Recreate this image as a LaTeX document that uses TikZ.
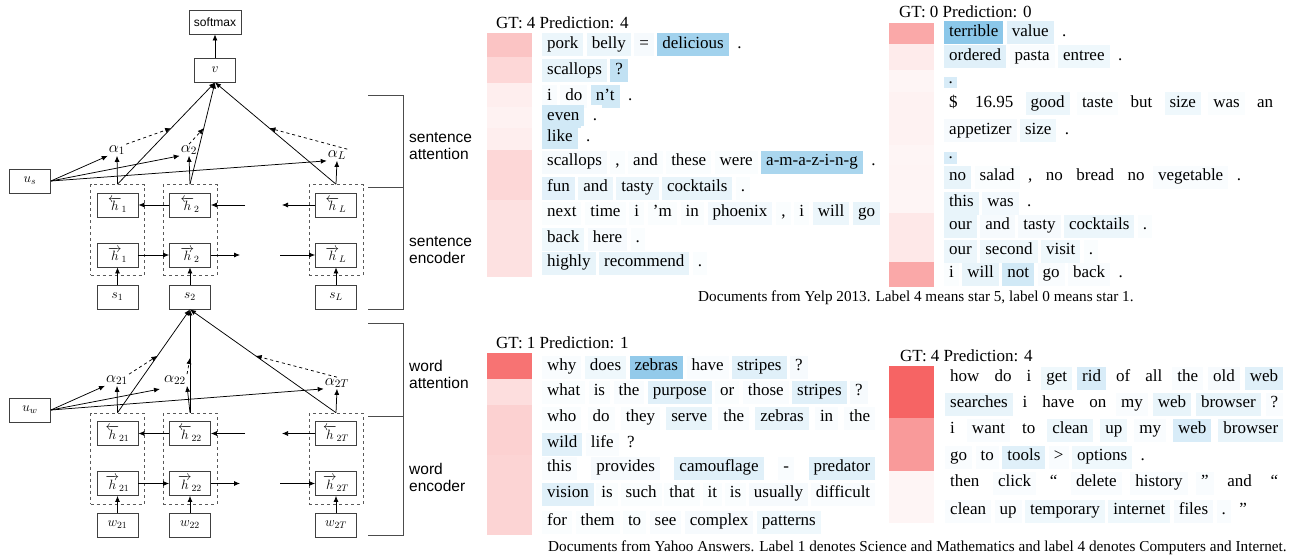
\RequirePackage{fix-cm}
\documentclass[tikz,border=0pt]{standalone}
\usepackage{xcolor}
\usepackage{fontspec}
\setmainfont{Liberation Serif}
\setsansfont{Liberation Sans}
\usepackage{tikz}
\usetikzlibrary{arrows.meta,fit,calc}
\definecolor{attblue}{RGB}{100,180,225}
\definecolor{attred}{RGB}{245,90,90}
\setlength{\fboxsep}{0pt}
% one highlighted word, and the gap after it
\newcommand{\wrd}[2]{\colorbox{attblue!#1}{\hspace{5pt}\rule[-8pt]{0pt}{23pt}#2\hspace{5pt}}\wsep}
\newcommand{\wsep}{\hspace{3.5pt}}
% a justified line of words
\newcommand{\jline}[2]{\hbox to #1{\def\wsep{\hfill}#2\unskip}}

\begin{document}
\begin{tikzpicture}[x=1pt, y=-1pt,
    unit/.style={draw=black!75, line width=0.8pt, minimum width=41pt, minimum height=24pt, inner sep=0pt, font=\fontsize{13.5}{15}\selectfont},
    grp/.style={draw=black!65, dashed, line width=0.8pt, inner xsep=6pt, inner ysep=8pt},
    att/.style={inner sep=1pt, font=\fontsize{16}{18}\selectfont},
    arr/.style={-{Latex[length=6pt,width=5pt]}, line width=0.75pt},
    datt/.style={arr, dashed},
    brk/.style={draw=black!70, line width=0.8pt},
    layer/.style={font=\sffamily\fontsize{15.5}{17}\selectfont, align=left, anchor=west, inner sep=0pt},
    hdr/.style={anchor=west, inner sep=0pt, font=\fontsize{17}{20}\selectfont},
    wline/.style={anchor=west, inner sep=0pt, font=\fontsize{17}{20}\selectfont},
    capt/.style={anchor=west, inner sep=0pt, font=\fontsize{15.2}{17}\selectfont}
]
\useasboundingbox (0,0) rectangle (1293,559);

% ---- sentence level ----
\node[unit, minimum width=52pt, font=\sffamily\fontsize{12}{14}\selectfont] (softmax) at (215,22) {softmax};
\node[unit] (v) at (215,70) {$v$};
\node[unit] (us) at (30,181) {$u_s$};
\draw[arr] (v) -- (softmax);

\foreach \n/\x in {1/117.5, 2/190, L/336} {
    \node[unit] (hb\n) at (\x,205) {$\overleftarrow{h}_{\n}$};
    \node[unit] (hf\n) at (\x,255) {$\overrightarrow{h}_{\n}$};
    \node[unit] (s\n) at (\x,297) {$s_{\n}$};
    \node[grp, fit=(hb\n)(hf\n)] (g\n) {};
    \draw[arr] (s\n) -- (hf\n);
    \draw[arr] (g\n.north) -- (v.south);
}
\coordinate (hbb) at (245,205);
\coordinate (hba) at (282,205);
\coordinate (hfa) at (240,255);
\coordinate (hfb) at (280,255);
\draw[arr] (hb2) -- (hb1);
\draw[arr] (hbb) -- (hb2);
\draw[arr] (hbL) -- (hba);
\draw[arr] (hf1) -- (hf2);
\draw[arr] (hf2) -- (hfa);
\draw[arr] (hfb) -- (hfL);

\node[att] (a1) at (117,150) {$\alpha_1$};
\node[att] (a2) at (189,150) {$\alpha_2$};
\node[att] (aL) at (337,155) {$\alpha_L$};
\draw[arr] (g1.north) -- (a1.south);
\draw[arr] (g2.north) -- (a2.south);
\draw[arr] (gL.north) -- (aL.south);
\foreach \t in {a1,a2,aL}
    \draw[arr] (us.east) -- (\t.south west);
\draw[datt] (a1.north east) -- ($(g1.north)!0.55!(v.south)$);
\draw[datt] (a2.north) -- ($(g2.north)!0.55!(v.south)$);
\draw[datt] (aL.north east) -- ($(gL.north)!0.55!(v.south)$);

% ---- word level ----
\node[unit] (uw) at (30,410) {$u_w$};
\foreach \n/\x in {21/117.5, 22/190, 2T/336} {
    \node[unit] (hb\n) at (\x,433.5) {$\overleftarrow{h}_{\n}$};
    \node[unit] (hf\n) at (\x,483.5) {$\overrightarrow{h}_{\n}$};
    \node[unit] (w\n) at (\x,525) {$w_{\n}$};
    \node[grp, fit=(hb\n)(hf\n)] (g\n) {};
    \draw[arr] (w\n) -- (hf\n);
    \draw[arr] (g\n.north) -- (s2.south);
}
\coordinate (wbb) at (245,433.5);
\coordinate (wba) at (282,433.5);
\coordinate (wfa) at (240,483.5);
\coordinate (wfb) at (280,483.5);
\draw[arr] (hb22) -- (hb21);
\draw[arr] (wbb) -- (hb22);
\draw[arr] (hb2T) -- (wba);
\draw[arr] (hf21) -- (hf22);
\draw[arr] (hf22) -- (wfa);
\draw[arr] (wfb) -- (hf2T);

\node[att] (a21) at (117,380) {$\alpha_{21}$};
\node[att] (a22) at (175,380) {$\alpha_{22}$};
\node[att] (a2T) at (337,383) {$\alpha_{2T}$};
\coordinate (a22in) at (160,389);
\draw[arr] (g21.north) -- (a21.south);
\draw[arr] (g22.north) -- (a22.south east);
\draw[arr] (g2T.north) -- (a2T.south);
\draw[arr] (uw.east) -- (a21.south west);
\draw[arr] (uw.east) -- (a22in);
\draw[arr] (uw.east) -- (a2T.south west);
\draw[datt] (a21.north east) -- ($(g21.north)!0.55!(s2.south)$);
\draw[datt] (a22.north east) -- ($(g22.north)!0.53!(s2.south)$);
\draw[datt] (a2T.north) -- ($(g2T.north)!0.55!(s2.south)$);

% ---- brackets ----
\draw[brk] (368,95) -| (403,309) -- (368,309);
\draw[brk] (368,187) -- (403,187);
\draw[brk] (368,323) -| (403,535) -- (368,535);
\draw[brk] (368,416) -- (403,416);
\node[layer] (lsa) at (409,146) {sentence\\attention};
\node[layer] (lse) at (409,250) {sentence\\encoder};
\node[layer] (lwa) at (409,374) {word\\attention};
\node[layer] (lwe) at (409,477) {word\\encoder};

% ---- sentence weights ----
\foreach \ya/\yb/\s in {33/57/36, 57/83/24, 83/107/10, 107/128/8, 128/150/10, 150/175/24, 175/200/24, 200/250/18, 250/277/18}
    \fill[attred!\s] (487,\ya) rectangle (532,\yb);
\foreach \ya/\yb/\s in {23/44/53, 44/70/12, 70/92/6, 92/145/8, 145/165/6, 165/190/7, 190/213/6, 213/237/14, 237/262/14, 262/287/53}
    \fill[attred!\s] (889,\ya) rectangle (934,\yb);
\foreach \ya/\yb/\s in {353/379/85, 379/405/20, 405/455/28, 455/535/26}
    \fill[attred!\s] (487,\ya) rectangle (532,\yb);
\foreach \ya/\yb/\s in {366/418/94, 418/471/61, 471/523/6}
    \fill[attred!\s] (889,\ya) rectangle (934,\yb);

% ---- Yelp, GT 4 ----
\node[hdr] (gta) at (496,23) {GT: 4 Prediction: 4};
\node[wline] (ya1) at (542,45) {\wrd{12}{pork}\wrd{12}{belly}\wrd{6}{=}\wrd{60}{delicious}\wrd{0}{.}};
\node[wline] (ya2) at (542,71) {\wrd{15}{scallops}\wrd{40}{?}};
\node[wline] (ya3) at (542,97) {\wrd{4}{i}\wrd{4}{do}\wrd{30}{n’t}\wrd{0}{.}};
\node[wline] (ya4) at (542,117) {\wrd{30}{even}\wrd{0}{.}};
\node[wline] (ya5) at (542,138) {\wrd{30}{like}\wrd{0}{.}};
\node[wline] (ya6) at (542,162) {\wrd{6}{scallops}\wrd{3}{,}\wrd{3}{and}\wrd{3}{these}\wrd{3}{were}\wrd{55}{a-m-a-z-i-n-g}\wrd{0}{.}};
\node[wline] (ya7) at (542,188) {\wrd{18}{fun}\wrd{12}{and}\wrd{12}{tasty}\wrd{15}{cocktails}\wrd{3}{.}};
\node[wline] (ya8) at (542,213) {\jline{338pt}{\wrd{3}{next}\wrd{3}{time}\wrd{3}{i}\wrd{3}{’m}\wrd{3}{in}\wrd{8}{phoenix}\wrd{3}{,}\wrd{3}{i}\wrd{12}{will}\wrd{15}{go}}};
\node[wline] (ya9) at (542,239) {\wrd{10}{back}\wrd{6}{here}\wrd{3}{.}};
\node[wline] (ya10) at (542,263) {\wrd{15}{highly}\wrd{15}{recommend}\wrd{3}{.}};

% ---- Yelp, GT 0 ----
\node[hdr] (gtb) at (899,12) {GT: 0 Prediction: 0};
\node[wline] (yb1) at (944,33) {\wrd{75}{terrible}\wrd{20}{value}\wrd{0}{.}};
\node[wline] (yb2) at (944,57) {\wrd{20}{ordered}\wrd{4}{pasta}\wrd{10}{entree}\wrd{0}{.}};
\node[wline, fill=attblue!25, minimum width=13pt, minimum height=11pt] (yb3) at (944,83) {.};
\node[wline] (yb4) at (944,104) {\jline{334pt}{\wrd{0}{\$}\wrd{0}{16.95}\wrd{12}{good}\wrd{3}{taste}\wrd{0}{but}\wrd{10}{size}\wrd{3}{was}\wrd{0}{an}}};
\node[wline] (yb5) at (944,131) {\wrd{6}{appetizer}\wrd{10}{size}\wrd{0}{.}};
\node[wline, fill=attblue!25, minimum width=13pt, minimum height=11pt] (yb6) at (944,158) {.};
\node[wline] (yb7) at (944,177) {\wrd{15}{no}\wrd{3}{salad}\wrd{0}{,}\wrd{0}{no}\wrd{0}{bread}\wrd{0}{no}\wrd{4}{vegetable}\wrd{0}{.}};
\node[wline] (yb8) at (944,203) {\wrd{15}{this}\wrd{8}{was}\wrd{0}{.}};
\node[wline] (yb9) at (944,226) {\wrd{15}{our}\wrd{6}{and}\wrd{6}{tasty}\wrd{12}{cocktails}\wrd{3}{.}};
\node[wline] (yb10) at (944,251) {\wrd{12}{our}\wrd{10}{second}\wrd{10}{visit}\wrd{3}{.}};
\node[wline] (yb11) at (944,274) {\wrd{3}{i}\wrd{15}{will}\wrd{30}{not}\wrd{4}{go}\wrd{4}{back}\wrd{0}{.}};
\node[capt] (capy) at (698,298) {Documents from Yelp 2013. Label 4 means star 5, label 0 means star 1.};

% ---- Yahoo, GT 1 ----
\node[hdr] (gtc) at (496,343) {GT: 1 Prediction: 1};
\node[wline] (yc1) at (542,367) {\wrd{4}{why}\wrd{10}{does}\wrd{70}{zebras}\wrd{4}{have}\wrd{20}{stripes}\wrd{6}{?}};
\node[wline] (yc2) at (542,392) {\wrd{3}{what}\wrd{3}{is}\wrd{4}{the}\wrd{20}{purpose}\wrd{3}{or}\wrd{4}{those}\wrd{20}{stripes}\wrd{6}{?}};
\node[wline] (yc3) at (542,418) {\jline{333pt}{\wrd{3}{who}\wrd{3}{do}\wrd{3}{they}\wrd{15}{serve}\wrd{4}{the}\wrd{15}{zebras}\wrd{4}{in}\wrd{4}{the}}};
\node[wline] (yc4) at (542,444) {\wrd{20}{wild}\wrd{4}{life}\wrd{0}{?}};
\node[wline] (yc5) at (542,468) {\jline{333pt}{\wrd{4}{this}\wrd{6}{provides}\wrd{20}{camouflage}\wrd{4}{-}\wrd{20}{predator}}};
\node[wline] (yc6) at (542,494) {\jline{333pt}{\wrd{20}{vision}\wrd{3}{is}\wrd{3}{such}\wrd{3}{that}\wrd{3}{it}\wrd{3}{is}\wrd{6}{usually}\wrd{4}{difficult}}};
\node[wline] (yc7) at (542,522) {\wrd{3}{for}\wrd{3}{them}\wrd{3}{to}\wrd{4}{see}\wrd{6}{complex}\wrd{10}{patterns}};

% ---- Yahoo, GT 4 ----
\node[hdr] (gtd) at (900,356) {GT: 4 Prediction: 4};
\node[wline] (yd1) at (945,378) {\jline{338pt}{\wrd{0}{how}\wrd{0}{do}\wrd{0}{i}\wrd{10}{get}\wrd{25}{rid}\wrd{0}{of}\wrd{0}{all}\wrd{4}{the}\wrd{6}{old}\wrd{20}{web}}};
\node[wline] (yd2) at (945,404) {\jline{338pt}{\wrd{15}{searches}\wrd{0}{i}\wrd{0}{have}\wrd{0}{on}\wrd{4}{my}\wrd{15}{web}\wrd{15}{browser}\wrd{4}{?}}};
\node[wline] (yd3) at (945,430) {\jline{338pt}{\wrd{0}{i}\wrd{4}{want}\wrd{0}{to}\wrd{12}{clean}\wrd{10}{up}\wrd{4}{my}\wrd{25}{web}\wrd{15}{browser}}};
\node[wline] (yd4) at (945,457) {\wrd{4}{go}\wrd{4}{to}\wrd{20}{tools}\wrd{4}{>}\wrd{10}{options}\wrd{0}{.}};
\node[wline] (yd5) at (945,483) {\jline{338pt}{\wrd{0}{then}\wrd{4}{click}\wrd{0}{“}\wrd{4}{delete}\wrd{4}{history}\wrd{4}{”}\wrd{0}{and}\wrd{0}{“}}};
\node[wline] (yd6) at (945,511) {\wrd{4}{clean}\wrd{4}{up}\wrd{10}{temporary}\wrd{10}{internet}\wrd{6}{files}\wrd{4}{.}\wrd{0}{”}};
\node[capt] (capq) at (548,548) {Documents from Yahoo Answers. Label 1 denotes Science and Mathematics and label 4 denotes Computers and Internet.};
\end{tikzpicture}
\end{document}
